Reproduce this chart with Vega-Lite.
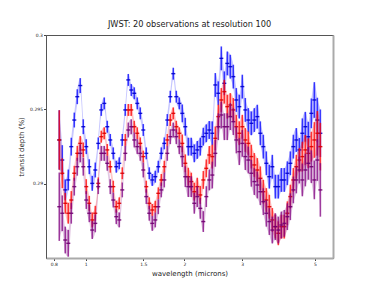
{
"$schema": "https://vega.github.io/schema/vega-lite/v6.json",
"width": 287, "height": 223,
"autosize": {"type": "none"},
"padding": {"left": 46, "top": 35, "right": 37, "bottom": 38},
"background": "white",
"config": {
 "font": "DejaVu Sans",
 "view": {"stroke": "#555", "strokeWidth": 1},
 "axis": {"grid": false, "labelFont": "DejaVu Sans", "titleFont": "DejaVu Sans", "labelFontSize": 4.5, "titleFontSize": 7, "labelColor": "#222", "titleColor": "#222", "tickColor": "#444", "tickSize": 2.5, "labelPadding": 1, "domainColor": "#555", "titleFontWeight": "normal"}
},
"title": {"text": "JWST: 20 observations at resolution 100", "fontSize": 8.2, "fontWeight": "normal", "color": "#222", "offset": 3, "font": "DejaVu Sans"},
"data": {"values": [
{"w":0.831,"b":0.29294,"r":0.29294,"p":0.28845,"e":0.002,"ep":0.0023},
{"w":0.8487,"b":0.29159,"r":0.2907,"p":0.28801,"e":0.001,"ep":0.0012},
{"w":0.8667,"b":0.28958,"r":0.28868,"p":0.28621,"e":0.0007,"ep":0.0009},
{"w":0.8852,"b":0.29025,"r":0.28801,"p":0.28599,"e":0.0007,"ep":0.0009},
{"w":0.904,"b":0.29249,"r":0.2889,"p":0.28801,"e":0.0006,"ep":0.0007},
{"w":0.9233,"b":0.29428,"r":0.2907,"p":0.2898,"e":0.0005,"ep":0.0006},
{"w":0.9429,"b":0.29585,"r":0.29204,"p":0.29114,"e":0.0005,"ep":0.0006},
{"w":0.963,"b":0.2966,"r":0.29271,"p":0.29204,"e":0.0005,"ep":0.0006},
{"w":0.9835,"b":0.29383,"r":0.29227,"p":0.29114,"e":0.0005,"ep":0.0006},
{"w":1.0044,"b":0.29249,"r":0.2898,"p":0.2889,"e":0.0005,"ep":0.0006},
{"w":1.0258,"b":0.29114,"r":0.28868,"p":0.28801,"e":0.0005,"ep":0.0006},
{"w":1.0476,"b":0.29002,"r":0.28756,"p":0.28688,"e":0.0005,"ep":0.0006},
{"w":1.07,"b":0.29092,"r":0.28801,"p":0.28733,"e":0.0005,"ep":0.0006},
{"w":1.0927,"b":0.29271,"r":0.29002,"p":0.2898,"e":0.0004,"ep":0.0005},
{"w":1.116,"b":0.29496,"r":0.29316,"p":0.29204,"e":0.0004,"ep":0.0005},
{"w":1.1398,"b":0.2954,"r":0.29339,"p":0.29204,"e":0.0004,"ep":0.0005},
{"w":1.164,"b":0.29383,"r":0.29227,"p":0.29137,"e":0.0004,"ep":0.0005},
{"w":1.1888,"b":0.29294,"r":0.29114,"p":0.2898,"e":0.0004,"ep":0.0005},
{"w":1.2141,"b":0.29204,"r":0.2898,"p":0.2889,"e":0.0004,"ep":0.0005},
{"w":1.24,"b":0.29114,"r":0.28845,"p":0.28778,"e":0.0004,"ep":0.0005},
{"w":1.2664,"b":0.29137,"r":0.28868,"p":0.28756,"e":0.0004,"ep":0.0005},
{"w":1.2933,"b":0.29294,"r":0.2907,"p":0.28958,"e":0.0004,"ep":0.0005},
{"w":1.3209,"b":0.29496,"r":0.29294,"p":0.29204,"e":0.0004,"ep":0.0005},
{"w":1.349,"b":0.29698,"r":0.29496,"p":0.29361,"e":0.0004,"ep":0.0005},
{"w":1.3777,"b":0.2963,"r":0.29496,"p":0.29383,"e":0.0004,"ep":0.0005},
{"w":1.4071,"b":0.29608,"r":0.29383,"p":0.29294,"e":0.0004,"ep":0.0005},
{"w":1.437,"b":0.2954,"r":0.29339,"p":0.29249,"e":0.0004,"ep":0.0005},
{"w":1.4676,"b":0.29473,"r":0.29271,"p":0.29204,"e":0.0004,"ep":0.0005},
{"w":1.4989,"b":0.29361,"r":0.29182,"p":0.29092,"e":0.0004,"ep":0.0005},
{"w":1.5308,"b":0.29204,"r":0.2898,"p":0.28913,"e":0.0004,"ep":0.0005},
{"w":1.5634,"b":0.2907,"r":0.28868,"p":0.28801,"e":0.0004,"ep":0.0005},
{"w":1.5967,"b":0.29025,"r":0.28823,"p":0.28733,"e":0.0004,"ep":0.0005},
{"w":1.6307,"b":0.29047,"r":0.28845,"p":0.28756,"e":0.0004,"ep":0.0005},
{"w":1.6655,"b":0.29114,"r":0.28935,"p":0.28845,"e":0.0004,"ep":0.0005},
{"w":1.7009,"b":0.29204,"r":0.29025,"p":0.28958,"e":0.0004,"ep":0.0005},
{"w":1.7372,"b":0.29271,"r":0.29114,"p":0.29025,"e":0.0004,"ep":0.0005},
{"w":1.7742,"b":0.29428,"r":0.29294,"p":0.29204,"e":0.0004,"ep":0.0005},
{"w":1.812,"b":0.29585,"r":0.29428,"p":0.29316,"e":0.0004,"ep":0.0005},
{"w":1.8505,"b":0.2974,"r":0.29473,"p":0.29361,"e":0.0004,"ep":0.0005},
{"w":1.89,"b":0.29585,"r":0.29383,"p":0.29316,"e":0.0004,"ep":0.0005},
{"w":1.9302,"b":0.2954,"r":0.29339,"p":0.29249,"e":0.0004,"ep":0.0005},
{"w":1.9713,"b":0.29473,"r":0.29271,"p":0.29182,"e":0.0006,"ep":0.0007},
{"w":2.0133,"b":0.29383,"r":0.29137,"p":0.29047,"e":0.0006,"ep":0.0007},
{"w":2.0562,"b":0.29249,"r":0.29047,"p":0.2898,"e":0.0006,"ep":0.0007},
{"w":2.1,"b":0.29249,"r":0.29014,"p":0.2898,"e":0.0006,"ep":0.0007},
{"w":2.1447,"b":0.29204,"r":0.28946,"p":0.28868,"e":0.0006,"ep":0.0007},
{"w":2.1904,"b":0.29227,"r":0.2898,"p":0.28913,"e":0.0006,"ep":0.0007},
{"w":2.237,"b":0.29249,"r":0.28924,"p":0.28834,"e":0.0006,"ep":0.0007},
{"w":2.2847,"b":0.29316,"r":0.29025,"p":0.28745,"e":0.0006,"ep":0.0007},
{"w":2.3333,"b":0.29339,"r":0.29103,"p":0.28913,"e":0.0006,"ep":0.0007},
{"w":2.383,"b":0.29361,"r":0.29193,"p":0.29025,"e":0.0006,"ep":0.0007},
{"w":2.4338,"b":0.29339,"r":0.29182,"p":0.29058,"e":0.0008,"ep":0.0009},
{"w":2.4856,"b":0.29664,"r":0.29305,"p":0.29204,"e":0.0008,"ep":0.0009},
{"w":2.5386,"b":0.29608,"r":0.29451,"p":0.29383,"e":0.0008,"ep":0.0009},
{"w":2.5927,"b":0.29843,"r":0.29563,"p":0.29462,"e":0.0008,"ep":0.0009},
{"w":2.6479,"b":0.29675,"r":0.29619,"p":0.29383,"e":0.0008,"ep":0.0009},
{"w":2.7043,"b":0.29809,"r":0.29518,"p":0.29383,"e":0.0008,"ep":0.0009},
{"w":2.7619,"b":0.29787,"r":0.29529,"p":0.29451,"e":0.0008,"ep":0.0009},
{"w":2.8207,"b":0.2972,"r":0.29496,"p":0.29417,"e":0.0008,"ep":0.0009},
{"w":2.8808,"b":0.29563,"r":0.29383,"p":0.29294,"e":0.0008,"ep":0.0009},
{"w":2.9422,"b":0.29518,"r":0.29339,"p":0.29215,"e":0.0008,"ep":0.0009},
{"w":3.0048,"b":0.29653,"r":0.29383,"p":0.29271,"e":0.0008,"ep":0.0009},
{"w":3.0688,"b":0.29496,"r":0.29294,"p":0.29182,"e":0.0008,"ep":0.0009},
{"w":3.1342,"b":0.29428,"r":0.29271,"p":0.29159,"e":0.0008,"ep":0.0009},
{"w":3.201,"b":0.29406,"r":0.29182,"p":0.2907,"e":0.0008,"ep":0.0009},
{"w":3.2691,"b":0.29428,"r":0.29126,"p":0.29014,"e":0.0008,"ep":0.0009},
{"w":3.3388,"b":0.29451,"r":0.29092,"p":0.28991,"e":0.0008,"ep":0.0009},
{"w":3.4099,"b":0.29339,"r":0.29036,"p":0.28946,"e":0.0008,"ep":0.0009},
{"w":3.4825,"b":0.29249,"r":0.28946,"p":0.28879,"e":0.0008,"ep":0.0009},
{"w":3.5567,"b":0.29137,"r":0.2889,"p":0.28801,"e":0.0008,"ep":0.0009},
{"w":3.6325,"b":0.29047,"r":0.28845,"p":0.28745,"e":0.0008,"ep":0.0009},
{"w":3.7098,"b":0.29114,"r":0.28756,"p":0.28688,"e":0.0008,"ep":0.0009},
{"w":3.7888,"b":0.2898,"r":0.28711,"p":0.28711,"e":0.0008,"ep":0.0009},
{"w":3.8695,"b":0.2898,"r":0.28666,"p":0.28688,"e":0.0008,"ep":0.0009},
{"w":3.952,"b":0.29025,"r":0.28711,"p":0.28722,"e":0.0008,"ep":0.0009},
{"w":4.0361,"b":0.29025,"r":0.28711,"p":0.28733,"e":0.0008,"ep":0.0009},
{"w":4.1221,"b":0.2907,"r":0.28801,"p":0.28778,"e":0.0008,"ep":0.0009},
{"w":4.2099,"b":0.29137,"r":0.28913,"p":0.28845,"e":0.0008,"ep":0.0009},
{"w":4.2996,"b":0.29249,"r":0.29025,"p":0.28958,"e":0.0008,"ep":0.0009},
{"w":4.3912,"b":0.29294,"r":0.29114,"p":0.29025,"e":0.0008,"ep":0.0009},
{"w":4.4847,"b":0.29227,"r":0.29159,"p":0.29092,"e":0.0008,"ep":0.0009},
{"w":4.5802,"b":0.29339,"r":0.29182,"p":0.29025,"e":0.001,"ep":0.0011},
{"w":4.6778,"b":0.29383,"r":0.29227,"p":0.29092,"e":0.001,"ep":0.0011},
{"w":4.7774,"b":0.29316,"r":0.29204,"p":0.29137,"e":0.001,"ep":0.0011},
{"w":4.8792,"b":0.29473,"r":0.29249,"p":0.29114,"e":0.001,"ep":0.0011},
{"w":4.9831,"b":0.29563,"r":0.29294,"p":0.29025,"e":0.0012,"ep":0.0013},
{"w":5.0893,"b":0.29428,"r":0.29339,"p":0.29159,"e":0.0015,"ep":0.0014},
{"w":5.1977,"b":0.29339,"r":0.29249,"p":0.28958,"e":0.0016,"ep":0.0018}
]},
"encoding": {
 "x": {"field": "w", "type": "quantitative", "scale": {"type": "log", "domain": [0.757, 5.68], "nice": false}, "axis": {"values": [0.8, 1, 1.5, 2, 3, 5], "format": "~g", "title": "wavelength (microns)", "titlePadding": 3, "domainColor": "#aaa", "domainWidth": 2}}
},
"resolve": {"axis": {"y": "independent"}},
"layer": [
 {"mark": {"type": "errorband", "color": "#0000ff", "opacity": 0.22, "interpolate": "monotone"},
  "encoding": {"y": {"field": "b", "type": "quantitative", "scale": {"domain": [0.285, 0.3], "nice": false, "zero": false}, "axis": {"orient": "left", "values": [0.29, 0.295, 0.3], "format": "~g", "title": "transit depth (%)", "titlePadding": 5}}, "yError": {"field": "e"}}},
 {"mark": {"type": "errorbar", "color": "#0000ff", "opacity": 0.75, "thickness": 1.6},
  "encoding": {"y": {"field": "b", "type": "quantitative", "axis": null}, "yError": {"field": "e"}}},
 {"mark": {"type": "point", "shape": "M-1,-0.35H1V0.35H-1Z", "filled": true, "size": 16, "color": "#0000cc", "opacity": 0.9},
  "encoding": {"y": {"field": "b", "type": "quantitative", "axis": null}}},
 {"mark": {"type": "errorband", "color": "#ff0000", "opacity": 0.22, "interpolate": "monotone"},
  "encoding": {"y": {"field": "r", "type": "quantitative", "axis": null}, "yError": {"field": "e"}}},
 {"mark": {"type": "errorbar", "color": "#ff0000", "opacity": 0.75, "thickness": 1.6},
  "encoding": {"y": {"field": "r", "type": "quantitative", "axis": null}, "yError": {"field": "e"}}},
 {"mark": {"type": "point", "shape": "M-1,-0.35H1V0.35H-1Z", "filled": true, "size": 16, "color": "#dd0000", "opacity": 0.9},
  "encoding": {"y": {"field": "r", "type": "quantitative", "axis": null}}},
 {"mark": {"type": "errorband", "color": "#800080", "opacity": 0.22, "interpolate": "monotone"},
  "encoding": {"y": {"field": "p", "type": "quantitative", "axis": null}, "yError": {"field": "ep"}}},
 {"mark": {"type": "errorbar", "color": "#800080", "opacity": 0.75, "thickness": 1.6},
  "encoding": {"y": {"field": "p", "type": "quantitative", "axis": null}, "yError": {"field": "ep"}}},
 {"mark": {"type": "point", "shape": "M-1,-0.35H1V0.35H-1Z", "filled": true, "size": 16, "color": "#700070", "opacity": 0.9},
  "encoding": {"y": {"field": "p", "type": "quantitative", "axis": {"orient": "right", "labels": false, "ticks": false, "title": null, "domainColor": "#aaa", "domainWidth": 2}}}}
]
}
